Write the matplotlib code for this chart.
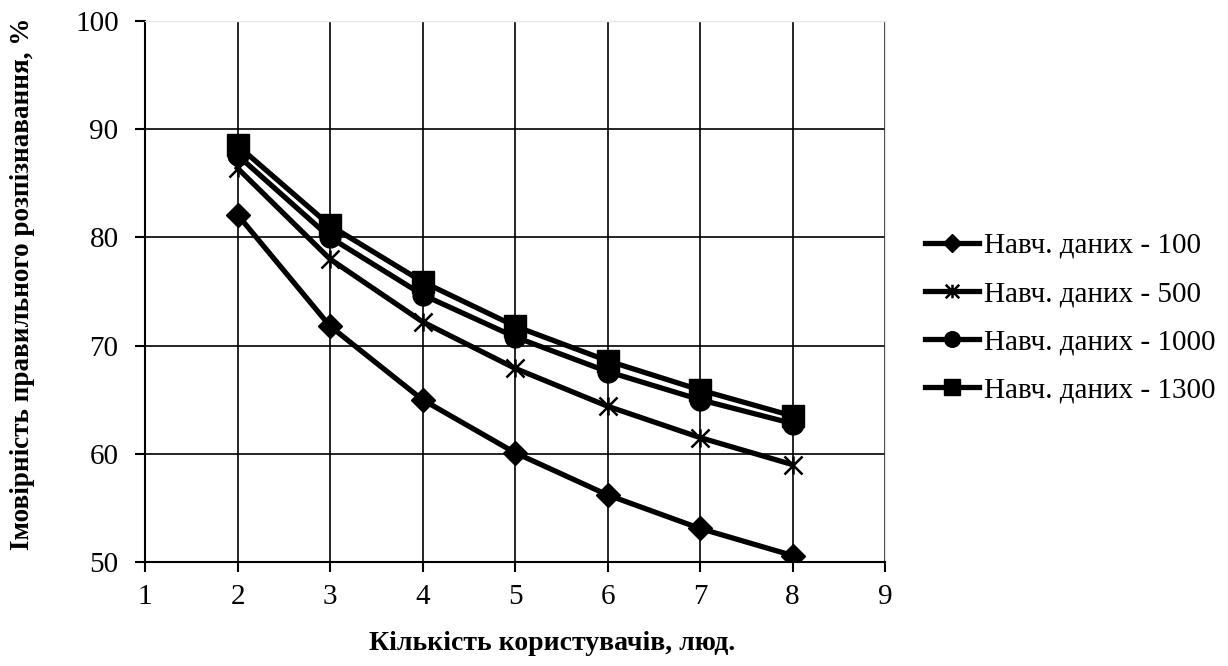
import numpy as np
import matplotlib
matplotlib.use("Agg")
import matplotlib.pyplot as plt
from matplotlib.path import Path

# Data
users = [2, 3, 4, 5, 6, 7, 8]
s100 = [82.1, 71.8, 65.0, 60.1, 56.2, 53.1, 50.6]
s500 = [86.4, 78.0, 72.2, 67.9, 64.4, 61.5, 59.0]
s1000 = [87.6, 80.0, 74.7, 70.8, 67.6, 65.0, 62.8]
s1300 = [88.5, 81.1, 75.9, 71.8, 68.6, 65.9, 63.5]
labels = ["Навч. даних - 100", "Навч. даних - 500",
          "Навч. даних - 1000", "Навч. даних - 1300"]

# Excel-like star marker: an x with a vertical stroke
star = Path([(-1, -1), (1, 1), (-1, 1), (1, -1), (0, -1), (0, 1)],
            [Path.MOVETO, Path.LINETO, Path.MOVETO, Path.LINETO,
             Path.MOVETO, Path.LINETO])
markers = ["D", star, "o", "s"]
msizes = [12, 13, 15, 16]

plt.rcParams['font.family'] = ['Liberation Serif', 'DejaVu Serif']

fig = plt.figure(figsize=(12.28, 6.66), dpi=100)
ax = fig.add_axes([145 / 1228, 1 - 562 / 666, 740 / 1228, 541 / 666])

for vals, lab, m, ms in zip([s100, s500, s1000, s1300], labels, markers, msizes):
    is_star = not isinstance(m, str)
    ax.plot(users, vals, color="black", lw=3.8, marker=m, markersize=ms,
            markerfacecolor="none" if is_star else "black",
            markeredgewidth=1.8 if is_star else 1, label=lab)

ax.set_xlim(1, 9)
ax.set_ylim(50, 100)
ax.set_xticks(range(1, 10))
ax.set_yticks(range(50, 101, 10))
ax.grid(True, color="black", lw=1.2)
ax.set_axisbelow(True)
# hide grid lines that sit on the plot border
for gl in ax.get_xgridlines():
    if gl.get_xdata()[0] in (1, 9):
        gl.set_visible(False)
for gl in ax.get_ygridlines():
    if gl.get_ydata()[0] in (50, 100):
        gl.set_visible(False)

for side in ["left", "bottom"]:
    ax.spines[side].set_linewidth(1.5)
for side in ["top", "right"]:
    ax.spines[side].set_color("#e6e6e6")
    ax.spines[side].set_linewidth(1)
ax.tick_params(direction="out", length=7, width=1.5, labelsize=21)
ax.tick_params(axis="y", pad=12)
ax.tick_params(axis="x", pad=9)

ax.set_xlabel("Кількість користувачів, люд.", fontsize=20, fontweight="bold")
ax.xaxis.set_label_coords((552 - 145) / 740, -(643 - 562) / 541)
ax.xaxis.label.set_va("center")
ax.set_ylabel("Імовірність правильного розпізнавання, %", fontsize=19.5,
              fontweight="bold")
ax.yaxis.set_label_coords(-(145 - 23) / 740, (562 - 284) / 541)
ax.yaxis.label.set_va("center")

ax.legend(loc="center left", bbox_to_anchor=((925 - 145) / 740, (562 - 318) / 541),
          frameon=False, fontsize=21, handlelength=1.85, handletextpad=0.17,
          labelspacing=0.75, borderaxespad=0, borderpad=0, markerscale=0.75)

fig.savefig("out.png", dpi=100)
